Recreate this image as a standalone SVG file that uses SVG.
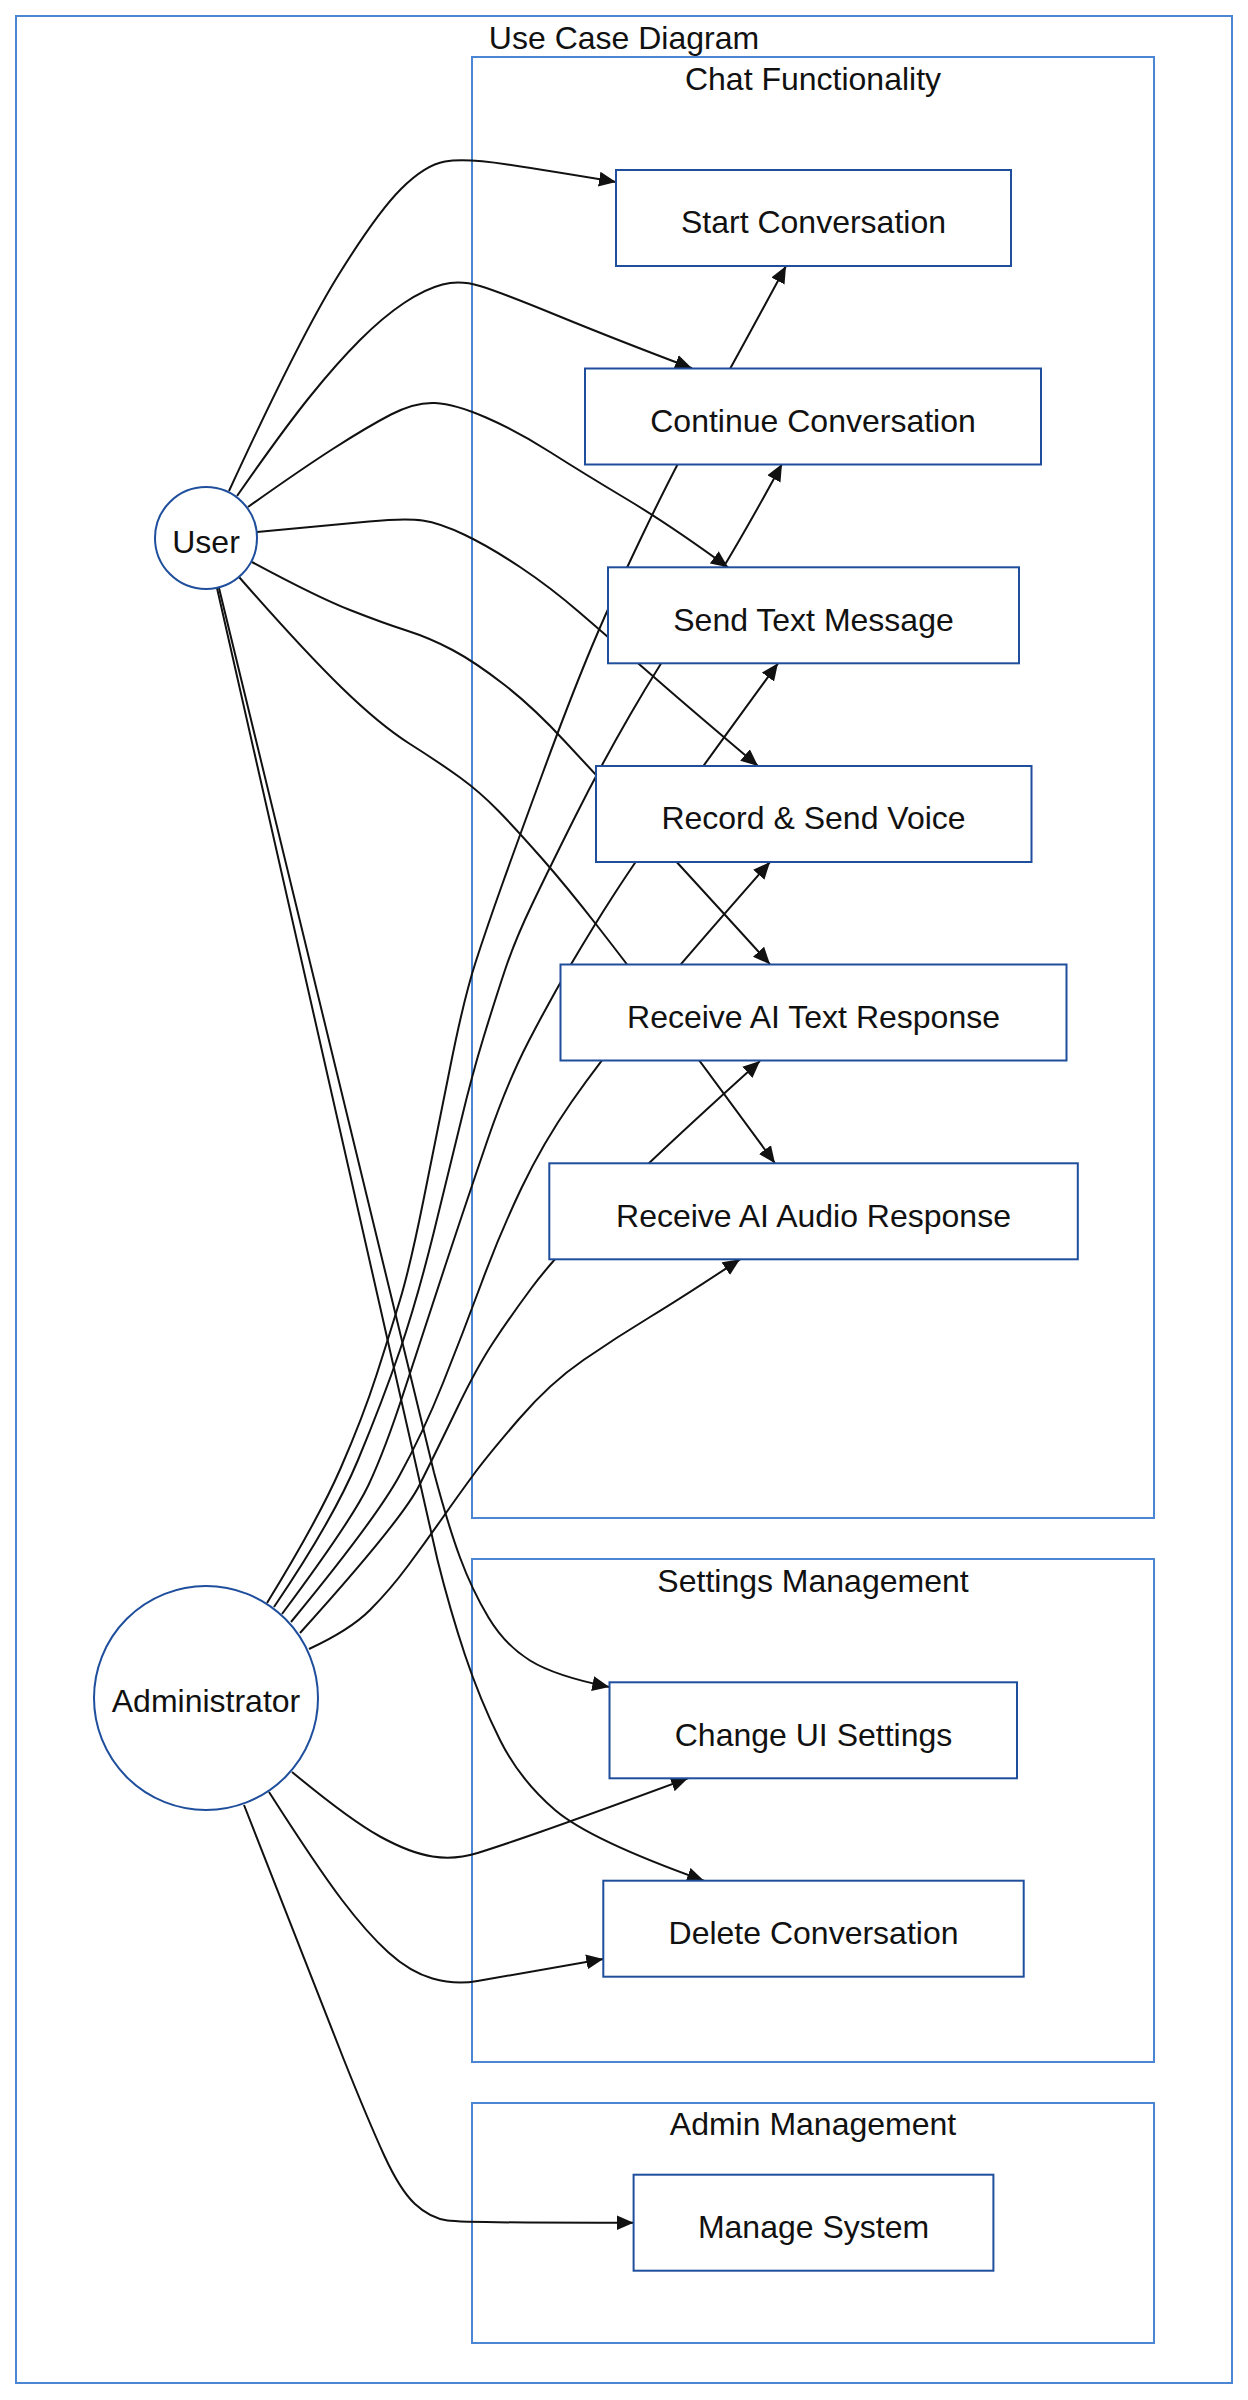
<svg xmlns="http://www.w3.org/2000/svg" width="1248" height="2400" viewBox="0 0 1248 2400">
<style>
.cl{fill:none;stroke:#4a86d4;stroke-width:2}
.nd{fill:#ffffff;stroke:#1f4f9c;stroke-width:2}
.t{font-family:"Liberation Sans",Arial,sans-serif;font-size:32px;fill:#111111;text-anchor:middle}
.e{fill:none;stroke:#111111;stroke-width:2;marker-end:url(#arr)}
</style>
<defs>
<marker id="arr" markerUnits="userSpaceOnUse" markerWidth="17" markerHeight="16" refX="17" refY="8" orient="auto">
<path d="M0,0.5 L17,8 L0,15.5 z" fill="#111111"/>
</marker>
</defs>
<rect width="1248" height="2400" fill="#ffffff"/>
<g id="clusters">
<g id="cluster-main"><rect class="cl" x="16" y="16" width="1216" height="2367"/><text class="t" x="624" y="49">Use Case Diagram</text></g>
<g id="cluster-chat"><rect class="cl" x="472" y="57" width="682" height="1461"/><text class="t" x="813" y="90">Chat Functionality</text></g>
<g id="cluster-settings"><rect class="cl" x="472" y="1559" width="682" height="503"/><text class="t" x="813" y="1592">Settings Management</text></g>
<g id="cluster-admin"><rect class="cl" x="472" y="2103" width="682" height="240"/><text class="t" x="813" y="2135">Admin Management</text></g>
</g>
<g id="connectors">
<path class="e" d="M229,491 Q300,337 338.5,275 Q377,213 401,189 Q425,165 445,161.5 Q465,158 507.5,164.5 Q550,171 616,182"/>
<path class="e" d="M237,496 Q283,430 310,396.5 Q337,363 360,340 Q383,317 404,303 Q425,289 442.5,284.5 Q460,280 480,286 Q500,292 558.5,316 Q617,340 692,368.3"/>
<path class="e" d="M248,507 Q300,470 333.5,448.5 Q367,427 391,414.5 Q415,402 435,403 Q455,404 486,417.5 Q517,431 550,452 Q583,473 626.5,499 Q670,525 728,567.3"/>
<path class="e" d="M257,532 Q333,525 369,521.5 Q405,518 422.5,520.5 Q440,523 465,535 Q490,547 520,567 Q550,587 579,612 Q608,637 624,651 Q640,665 670,691 Q700,717 758,766"/>
<path class="e" d="M252,562 Q317,597 350,610 Q383,623 406.5,630.5 Q430,638 452.5,650 Q475,662 504,684.5 Q533,707 564.5,741 Q596,775 636.5,818.5 Q677,862 770,964.3"/>
<path class="e" d="M239,577 Q303,650 341.5,687.5 Q380,725 410,744 Q440,763 460,777.5 Q480,792 498.5,811 Q517,830 542,858.5 Q567,887 597,925.5 Q627,964 663.5,1012.5 Q700,1061 775,1163.3"/>
<path class="e" d="M219,588 Q420,1420 434,1472.5 Q448,1525 460,1557.5 Q472,1590 488.5,1617.5 Q505,1645 530,1660.5 Q555,1676 609.3,1687"/>
<path class="e" d="M217,588 Q425,1510 437.5,1560 Q450,1610 465,1655 Q480,1700 500,1740 Q520,1780 555,1810 Q590,1840 704,1880.7"/>
<path class="e" d="M267,1603 Q318,1520 340.5,1468.5 Q363,1417 376.5,1375 Q390,1333 400,1300 Q410,1267 423.5,1200 Q437,1133 450.5,1065.5 Q464,998 475.5,962.5 Q487,927 502,885 Q517,843 542,775 Q567,707 587.5,657 Q608,607 642,536 Q676,465 703.5,416.5 Q731,368 786,266"/>
<path class="e" d="M274,1607 Q333,1520 358,1460 Q383,1400 400,1350 Q417,1300 433.5,1233.5 Q450,1167 461,1121 Q472,1075 483.5,1037.5 Q495,1000 505,970 Q515,940 532.5,903.5 Q550,867 575,817 Q600,767 630,715 Q660,663 693,615 Q726,567 782,464"/>
<path class="e" d="M282,1614 Q352,1520 368.5,1485 Q385,1450 404,1391.5 Q423,1333 445,1266.5 Q467,1200 487,1141.5 Q507,1083 528.5,1041.5 Q550,1000 571.5,963.5 Q593,927 614,894.5 Q635,862 669,814 Q703,766 778,663.3"/>
<path class="e" d="M291,1622 Q375,1520 399,1476.5 Q423,1433 443,1383 Q463,1333 481.5,1283 Q500,1233 521.5,1188 Q543,1143 571.5,1102 Q600,1061 640,1012.7 Q680,964.3 770,862"/>
<path class="e" d="M300,1633 Q402,1520 419.5,1485 Q437,1450 457,1408.5 Q477,1367 493.5,1342 Q510,1317 531.5,1288 Q553,1259 600,1211 Q647,1163 760,1061"/>
<path class="e" d="M309,1649 Q350,1630 370,1610 Q390,1590 408.5,1565 Q427,1540 443.5,1516.5 Q460,1493 474,1474 Q488,1455 519,1419 Q550,1383 583.5,1360 Q617,1337 650,1317 Q683,1297 740,1259.3"/>
<path class="e" d="M292,1772 Q350,1820 380,1836.5 Q410,1853 432.5,1856.5 Q455,1860 477.5,1853 Q500,1846 541.5,1831.5 Q583,1817 688,1778.3"/>
<path class="e" d="M269,1792 Q317,1867 342,1900 Q367,1933 388.5,1952.5 Q410,1972 432.5,1978.5 Q455,1985 477.5,1981 Q500,1977 603.3,1959"/>
<path class="e" d="M244,1805 Q320,2000 344,2060 Q368,2120 384,2155 Q400,2190 415,2204 Q430,2218 447.5,2220.5 Q465,2223 633.6,2222.7"/>
</g>
<g id="node-user"><circle class="nd" cx="206" cy="538" r="51"/><text class="t" x="206" y="553">User</text></g>
<g id="node-admin"><circle class="nd" cx="206" cy="1698" r="112"/><text class="t" x="206" y="1712">Administrator</text></g>
<g id="node-start"><rect class="nd" x="616" y="170" width="395" height="96"/><text class="t" x="813.5" y="233">Start Conversation</text></g>
<g id="node-continue"><rect class="nd" x="585" y="368.5" width="456" height="96"/><text class="t" x="813" y="431.5">Continue Conversation</text></g>
<g id="node-sendtext"><rect class="nd" x="608" y="567.3" width="411" height="96"/><text class="t" x="813.5" y="630.5">Send Text Message</text></g>
<g id="node-voice"><rect class="nd" x="596" y="766" width="435.5" height="96"/><text class="t" x="813.5" y="829">Record &amp; Send Voice</text></g>
<g id="node-recvtext"><rect class="nd" x="560.5" y="964.5" width="506" height="96"/><text class="t" x="813.5" y="1027.5">Receive AI Text Response</text></g>
<g id="node-recvaudio"><rect class="nd" x="549.3" y="1163.3" width="528.5" height="96"/><text class="t" x="813.5" y="1226.5">Receive AI Audio Response</text></g>
<g id="node-uisettings"><rect class="nd" x="609.5" y="1682.3" width="407.5" height="96"/><text class="t" x="813.5" y="1745.5">Change UI Settings</text></g>
<g id="node-delete"><rect class="nd" x="603.3" y="1880.7" width="420.4" height="96"/><text class="t" x="813.5" y="1944">Delete Conversation</text></g>
<g id="node-manage"><rect class="nd" x="633.6" y="2174.7" width="359.8" height="96"/><text class="t" x="813.5" y="2238">Manage System</text></g>
</svg>
